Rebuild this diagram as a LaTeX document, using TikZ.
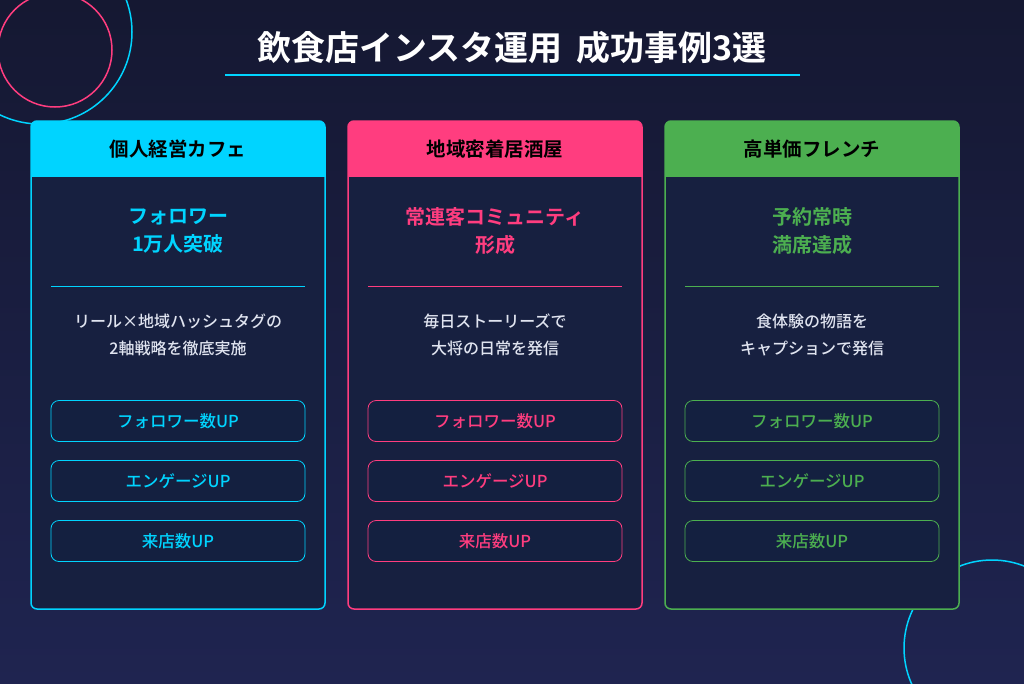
\documentclass[tikz,border=0pt]{standalone}
\usepackage{fontspec}
\setmainfont{Noto Sans CJK JP Medium}
\newfontfamily\jpb{Noto Sans CJK JP Bold}
\newfontfamily\jpk{Noto Sans CJK JP Black}
\definecolor{bgtop}{HTML}{151832}
\definecolor{bgbot}{HTML}{1F2450}
\definecolor{card}{HTML}{172040}
\definecolor{pill}{HTML}{142040}
\definecolor{ccyan}{HTML}{00D4FF}
\definecolor{cpink}{HTML}{FF3D7F}
\definecolor{cgreen}{HTML}{4CAF50}
\definecolor{desc}{HTML}{E0E4F0}
\tikzset{
  cardbox/.style={draw=#1, line width=1.5pt, fill=card, rounded corners=6pt},
  headtxt/.style={font=\jpb\fontsize{19.5}{22}\selectfont, text=black},
  bigtxt/.style={font=\jpb\fontsize{20}{28}\selectfont, text=#1, align=center},
  desctxt/.style={font=\fontsize{16}{27}\selectfont, text=desc, align=center},
  pillbox/.style={draw=#1, line width=0.8pt, fill=pill, rounded corners=8pt, minimum width=254pt, minimum height=41pt, text=#1, font=\fontsize{16.5}{18}\selectfont},
}
\begin{document}
\begin{tikzpicture}[x=1pt,y=-1pt]
\shade[top color=bgtop, bottom color=bgbot] (0,0) rectangle (1024,683);
\useasboundingbox (0,0) rectangle (1024,683);
\draw[ccyan, line width=1.5pt] (40,32) circle (92);
\draw[cpink, line width=1.5pt] (55,50) circle (57);
\draw[ccyan, line width=1.5pt] (992,648) circle (88);
\node[font=\jpb\fontsize{34}{36}\selectfont, text=white] (title) at (512,48) {飲食店インスタ運用\hspace{0.4em}成功事例3選};
\draw[ccyan, line width=2pt] (225,75) -- (800,75);
\foreach \x/\c/\h/\b/\d [count=\i] in {
 31/ccyan/個人経営カフェ/{フォロワー\\1万人突破}/{リール×地域ハッシュタグの\\2軸戦略を徹底実施},
 348/cpink/地域密着居酒屋/{常連客コミュニティ\\形成}/{毎日ストーリーズで\\大将の日常を発信},
 665/cgreen/高単価フレンチ/{予約常時\\満席達成}/{食体験の物語を\\キャプションで発信}}{
  \draw[cardbox=\c] (\x,121) rectangle ++(294,488);
  \fill[\c, rounded corners=6pt] (\x,121) rectangle ++(294,30);
  \fill[\c] (\x,140) rectangle ++(294,36);
  \draw[\c, line width=1.5pt] (\x,176) -- ++(294,0);
  \node[headtxt] (h\i) at (\x+147,149) {\h};
  \node[bigtxt=\c] (b\i) at (\x+147,231) {\b};
  \draw[\c, line width=0.6pt] (\x+20,286) -- ++(254,0);
  \node[desctxt] (d\i) at (\x+147,335) {\d};
  \node[pillbox=\c] (p\i a) at (\x+147,421) {フォロワー数UP};
  \node[pillbox=\c] (p\i b) at (\x+147,481) {エンゲージUP};
  \node[pillbox=\c] (p\i c) at (\x+147,541) {来店数UP};
}
\end{tikzpicture}
\end{document}
